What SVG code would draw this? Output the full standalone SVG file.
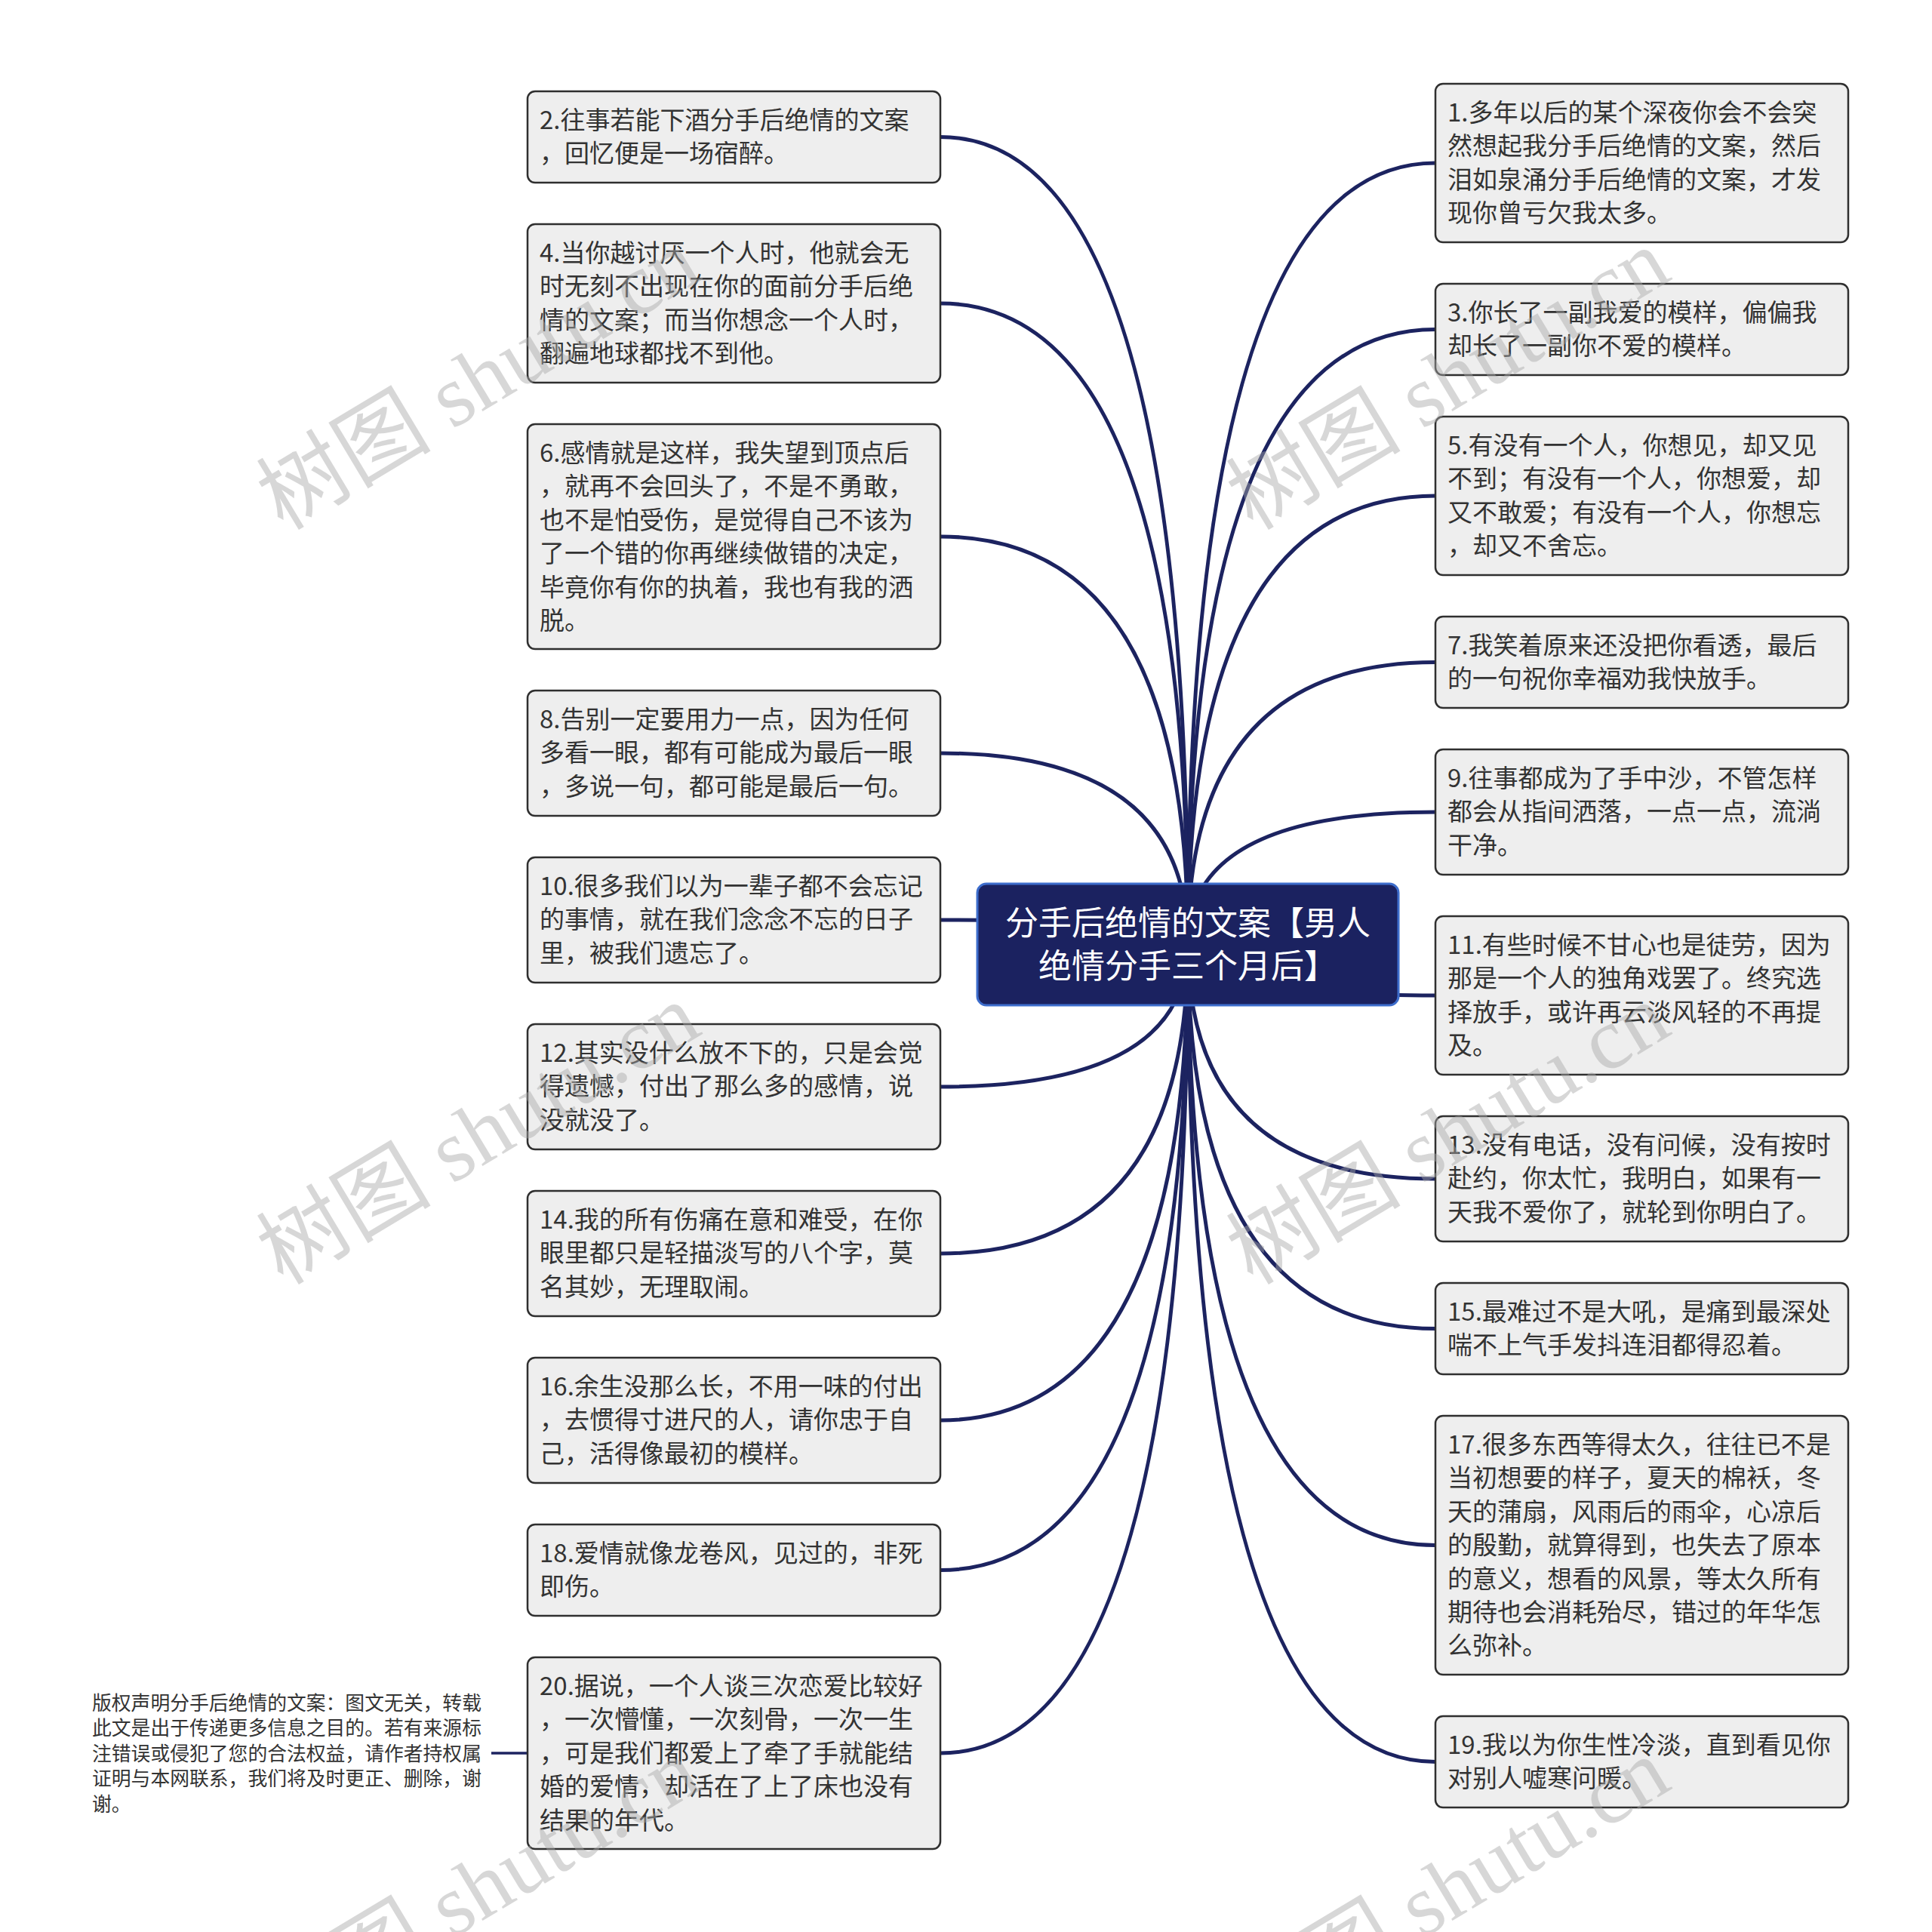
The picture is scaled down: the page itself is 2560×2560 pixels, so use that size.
<svg xmlns="http://www.w3.org/2000/svg" width="2560" height="2560" viewBox="0 0 2560 2560">
<style>
.bx{fill:#eeeeee;stroke:#2f2f2f;stroke-width:2.5}
.t{font-family:"Noto Sans CJK SC","Noto Sans",sans-serif;font-size:33px;fill:#333333}
.rt{font-family:"Noto Sans CJK SC","Noto Sans",sans-serif;font-size:44px;fill:#ffffff;text-anchor:middle}
.cp{font-family:"Noto Sans CJK SC","Noto Sans",sans-serif;font-size:25.8px;fill:#333333}
.c{fill:none;stroke:#1c2360;stroke-width:5}
.wm{font-family:"Liberation Serif","Noto Sans CJK SC",serif;font-size:116px;fill:#a8a8a8;opacity:0.45}
</style>
<rect width="2560" height="2560" fill="#ffffff"/>
<g id="connectors">
<path class="c" d="M1574 1251 Q1574 181.5 1246 181.5"/>
<path class="c" d="M1574 1251 Q1574 402 1246 402"/>
<path class="c" d="M1574 1251 Q1574 711 1246 711"/>
<path class="c" d="M1574 1251 Q1574 998 1246 998"/>
<path class="c" d="M1574 1251 Q1574 1219 1246 1219"/>
<path class="c" d="M1574 1251 Q1574 1440 1246 1440"/>
<path class="c" d="M1574 1251 Q1574 1661 1246 1661"/>
<path class="c" d="M1574 1251 Q1574 1882 1246 1882"/>
<path class="c" d="M1574 1251 Q1574 2080.5 1246 2080.5"/>
<path class="c" d="M1574 1251 Q1574 2323 1246 2323"/>
<path class="c" d="M1574 1251 Q1574 216 1902 216"/>
<path class="c" d="M1574 1251 Q1574 436.5 1902 436.5"/>
<path class="c" d="M1574 1251 Q1574 657 1902 657"/>
<path class="c" d="M1574 1251 Q1574 877.5 1902 877.5"/>
<path class="c" d="M1574 1251 Q1574 1076 1902 1076"/>
<path class="c" d="M1574 1251 Q1574 1319 1902 1319"/>
<path class="c" d="M1574 1251 Q1574 1562 1902 1562"/>
<path class="c" d="M1574 1251 Q1574 1760.5 1902 1760.5"/>
<path class="c" d="M1574 1251 Q1574 2047.5 1902 2047.5"/>
<path class="c" d="M1574 1251 Q1574 2334.5 1902 2334.5"/>
<path class="c" d="M651 2323 L699 2323" style="stroke-width:3.5"/>
</g>
<g id="root">
<rect x="1295" y="1171" width="558" height="161" rx="12" fill="#1b2260" stroke="#3d6dcc" stroke-width="3"/>
<text class="rt" x="1574" y="1239">分手后绝情的文案【男人</text>
<text class="rt" x="1574" y="1296">绝情分手三个月后】</text>
</g>
<g id="n2"><rect class="bx" x="699" y="121" width="547" height="121" rx="10"/>
<text class="t" x="715" y="171"><tspan x="715">2.往事若能下酒分手后绝情的文案</tspan><tspan x="715" dy="44.4">，回忆便是一场宿醉。</tspan></text></g>
<g id="n4"><rect class="bx" x="699" y="297" width="547" height="210" rx="10"/>
<text class="t" x="715" y="347"><tspan x="715">4.当你越讨厌一个人时，他就会无</tspan><tspan x="715" dy="44.4">时无刻不出现在你的面前分手后绝</tspan><tspan x="715" dy="44.4">情的文案；而当你想念一个人时，</tspan><tspan x="715" dy="44.4">翻遍地球都找不到他。</tspan></text></g>
<g id="n6"><rect class="bx" x="699" y="562" width="547" height="298" rx="10"/>
<text class="t" x="715" y="612"><tspan x="715">6.感情就是这样，我失望到顶点后</tspan><tspan x="715" dy="44.4">，就再不会回头了，不是不勇敢，</tspan><tspan x="715" dy="44.4">也不是怕受伤，是觉得自己不该为</tspan><tspan x="715" dy="44.4">了一个错的你再继续做错的决定，</tspan><tspan x="715" dy="44.4">毕竟你有你的执着，我也有我的洒</tspan><tspan x="715" dy="44.4">脱。</tspan></text></g>
<g id="n8"><rect class="bx" x="699" y="915" width="547" height="166" rx="10"/>
<text class="t" x="715" y="965"><tspan x="715">8.告别一定要用力一点，因为任何</tspan><tspan x="715" dy="44.4">多看一眼，都有可能成为最后一眼</tspan><tspan x="715" dy="44.4">，多说一句，都可能是最后一句。</tspan></text></g>
<g id="n10"><rect class="bx" x="699" y="1136" width="547" height="166" rx="10"/>
<text class="t" x="715" y="1186"><tspan x="715">10.很多我们以为一辈子都不会忘记</tspan><tspan x="715" dy="44.4">的事情，就在我们念念不忘的日子</tspan><tspan x="715" dy="44.4">里，被我们遗忘了。</tspan></text></g>
<g id="n12"><rect class="bx" x="699" y="1357" width="547" height="166" rx="10"/>
<text class="t" x="715" y="1407"><tspan x="715">12.其实没什么放不下的，只是会觉</tspan><tspan x="715" dy="44.4">得遗憾，付出了那么多的感情，说</tspan><tspan x="715" dy="44.4">没就没了。</tspan></text></g>
<g id="n14"><rect class="bx" x="699" y="1578" width="547" height="166" rx="10"/>
<text class="t" x="715" y="1628"><tspan x="715">14.我的所有伤痛在意和难受，在你</tspan><tspan x="715" dy="44.4">眼里都只是轻描淡写的八个字，莫</tspan><tspan x="715" dy="44.4">名其妙，无理取闹。</tspan></text></g>
<g id="n16"><rect class="bx" x="699" y="1799" width="547" height="166" rx="10"/>
<text class="t" x="715" y="1849"><tspan x="715">16.余生没那么长，不用一味的付出</tspan><tspan x="715" dy="44.4">，去惯得寸进尺的人，请你忠于自</tspan><tspan x="715" dy="44.4">己，活得像最初的模样。</tspan></text></g>
<g id="n18"><rect class="bx" x="699" y="2020" width="547" height="121" rx="10"/>
<text class="t" x="715" y="2070"><tspan x="715">18.爱情就像龙卷风，见过的，非死</tspan><tspan x="715" dy="44.4">即伤。</tspan></text></g>
<g id="n20"><rect class="bx" x="699" y="2196" width="547" height="254" rx="10"/>
<text class="t" x="715" y="2246"><tspan x="715">20.据说，一个人谈三次恋爱比较好</tspan><tspan x="715" dy="44.4">，一次懵懂，一次刻骨，一次一生</tspan><tspan x="715" dy="44.4">，可是我们都爱上了牵了手就能结</tspan><tspan x="715" dy="44.4">婚的爱情，却活在了上了床也没有</tspan><tspan x="715" dy="44.4">结果的年代。</tspan></text></g>
<g id="n1"><rect class="bx" x="1902" y="111" width="547" height="210" rx="10"/>
<text class="t" x="1918" y="161"><tspan x="1918">1.多年以后的某个深夜你会不会突</tspan><tspan x="1918" dy="44.4">然想起我分手后绝情的文案，然后</tspan><tspan x="1918" dy="44.4">泪如泉涌分手后绝情的文案，才发</tspan><tspan x="1918" dy="44.4">现你曾亏欠我太多。</tspan></text></g>
<g id="n3"><rect class="bx" x="1902" y="376" width="547" height="121" rx="10"/>
<text class="t" x="1918" y="426"><tspan x="1918">3.你长了一副我爱的模样，偏偏我</tspan><tspan x="1918" dy="44.4">却长了一副你不爱的模样。</tspan></text></g>
<g id="n5"><rect class="bx" x="1902" y="552" width="547" height="210" rx="10"/>
<text class="t" x="1918" y="602"><tspan x="1918">5.有没有一个人，你想见，却又见</tspan><tspan x="1918" dy="44.4">不到；有没有一个人，你想爱，却</tspan><tspan x="1918" dy="44.4">又不敢爱；有没有一个人，你想忘</tspan><tspan x="1918" dy="44.4">，却又不舍忘。</tspan></text></g>
<g id="n7"><rect class="bx" x="1902" y="817" width="547" height="121" rx="10"/>
<text class="t" x="1918" y="867"><tspan x="1918">7.我笑着原来还没把你看透，最后</tspan><tspan x="1918" dy="44.4">的一句祝你幸福劝我快放手。</tspan></text></g>
<g id="n9"><rect class="bx" x="1902" y="993" width="547" height="166" rx="10"/>
<text class="t" x="1918" y="1043"><tspan x="1918">9.往事都成为了手中沙，不管怎样</tspan><tspan x="1918" dy="44.4">都会从指间洒落，一点一点，流淌</tspan><tspan x="1918" dy="44.4">干净。</tspan></text></g>
<g id="n11"><rect class="bx" x="1902" y="1214" width="547" height="210" rx="10"/>
<text class="t" x="1918" y="1264"><tspan x="1918">11.有些时候不甘心也是徒劳，因为</tspan><tspan x="1918" dy="44.4">那是一个人的独角戏罢了。终究选</tspan><tspan x="1918" dy="44.4">择放手，或许再云淡风轻的不再提</tspan><tspan x="1918" dy="44.4">及。</tspan></text></g>
<g id="n13"><rect class="bx" x="1902" y="1479" width="547" height="166" rx="10"/>
<text class="t" x="1918" y="1529"><tspan x="1918">13.没有电话，没有问候，没有按时</tspan><tspan x="1918" dy="44.4">赴约，你太忙，我明白，如果有一</tspan><tspan x="1918" dy="44.4">天我不爱你了，就轮到你明白了。</tspan></text></g>
<g id="n15"><rect class="bx" x="1902" y="1700" width="547" height="121" rx="10"/>
<text class="t" x="1918" y="1750"><tspan x="1918">15.最难过不是大吼，是痛到最深处</tspan><tspan x="1918" dy="44.4">喘不上气手发抖连泪都得忍着。</tspan></text></g>
<g id="n17"><rect class="bx" x="1902" y="1876" width="547" height="343" rx="10"/>
<text class="t" x="1918" y="1926"><tspan x="1918">17.很多东西等得太久，往往已不是</tspan><tspan x="1918" dy="44.4">当初想要的样子，夏天的棉袄，冬</tspan><tspan x="1918" dy="44.4">天的蒲扇，风雨后的雨伞，心凉后</tspan><tspan x="1918" dy="44.4">的殷勤，就算得到，也失去了原本</tspan><tspan x="1918" dy="44.4">的意义，想看的风景，等太久所有</tspan><tspan x="1918" dy="44.4">期待也会消耗殆尽，错过的年华怎</tspan><tspan x="1918" dy="44.4">么弥补。</tspan></text></g>
<g id="n19"><rect class="bx" x="1902" y="2274" width="547" height="121" rx="10"/>
<text class="t" x="1918" y="2324"><tspan x="1918">19.我以为你生性冷淡，直到看见你</tspan><tspan x="1918" dy="44.4">对别人嘘寒问暖。</tspan></text></g>
<g id="copyright">
<text class="cp" x="122" y="2266"><tspan x="122">版权声明分手后绝情的文案：图文无关，转载</tspan><tspan x="122" dy="33.4">此文是出于传递更多信息之目的。若有来源标</tspan><tspan x="122" dy="33.4">注错误或侵犯了您的合法权益，请作者持权属</tspan><tspan x="122" dy="33.4">证明与本网联系，我们将及时更正、删除，谢</tspan><tspan x="122" dy="33.4">谢。</tspan></text>
</g>
<g id="watermarks">
<text class="wm" transform="translate(375 704) rotate(-31)">树图 shutu.cn</text>
<text class="wm" transform="translate(1660 704) rotate(-31)">树图 shutu.cn</text>
<text class="wm" transform="translate(375 1704) rotate(-31)">树图 shutu.cn</text>
<text class="wm" transform="translate(1660 1704) rotate(-31)">树图 shutu.cn</text>
<text class="wm" transform="translate(375 2704) rotate(-31)">树图 shutu.cn</text>
<text class="wm" transform="translate(1660 2704) rotate(-31)">树图 shutu.cn</text>
</g>
</svg>
